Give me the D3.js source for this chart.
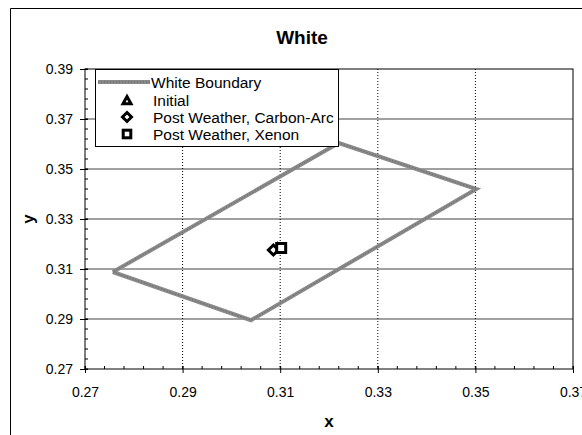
<!DOCTYPE html>
<html><head><meta charset="utf-8">
<script src="https://cdn.jsdelivr.net/npm/d3@7"></script>
<style>body{margin:0;background:#fff}svg{display:block;font-family:"Liberation Sans",Arial,sans-serif}</style>
</head><body>
<svg id="c" width="582" height="435"></svg>
<script>
const title = "White";
const xTicks = [0.27, 0.29, 0.31, 0.33, 0.35, 0.37];
const yTicks = [0.27, 0.29, 0.31, 0.33, 0.35, 0.37, 0.39];
const boundaryX = [0.2757, 0.3040, 0.3502, 0.3220, 0.2757];
const boundaryY = [0.3088, 0.2895, 0.3420, 0.3604, 0.3088];
const initialPt = [0.3095, 0.3182];
const carbonArcPt = [0.3086, 0.3176];
const xenonPt = [0.3102, 0.3184];
const legendLabels = ["White Boundary", "Initial", "Post Weather, Carbon-Arc", "Post Weather, Xenon"];

const svg = d3.select("#c");
svg.append("rect").attr("width",582).attr("height",435).attr("fill","#fff");
// outer chart border (only top/left visible)
svg.append("path").attr("d","M10.5,435 V8.5 H582").attr("fill","none").attr("stroke","#000");

const L=85, R=573, T=69, B=369;
const x = d3.scaleLinear().domain([0.27,0.37]).range([L,R]);
const y = d3.scaleLinear().domain([0.27,0.39]).range([B,T]);

// horizontal gridlines
svg.append("g").selectAll("line").data(yTicks.slice(1,-1)).join("line")
  .attr("x1",L).attr("x2",R).attr("y1",d=>y(d)).attr("y2",d=>y(d))
  .attr("stroke","#808080").attr("stroke-width",1.5);
// vertical dotted gridlines
svg.append("g").selectAll("line").data(xTicks.slice(1,-1)).join("line")
  .attr("x1",d=>x(d)).attr("x2",d=>x(d)).attr("y1",T).attr("y2",B)
  .attr("stroke","#000").attr("stroke-width",1).attr("stroke-dasharray","1,2");
// plot frame
svg.append("rect").attr("x",L).attr("y",T).attr("width",R-L).attr("height",B-T)
  .attr("fill","none").attr("stroke","#000").attr("stroke-width",1);

// axes
const minorX = d3.range(0.27,0.3701,0.004);
const minorY = d3.range(0.27,0.3901,0.004);
const xAxis = svg.append("g").attr("transform",`translate(0,${B})`)
  .call(d3.axisBottom(x).tickValues(xTicks).tickFormat(d3.format(".2f")).tickSize(4).tickPadding(14));
xAxis.select(".domain").remove();
xAxis.selectAll(".tick line").attr("y1",-3).attr("y2",4);
xAxis.selectAll("text").attr("font-size",14).attr("fill","#000");
svg.append("g").selectAll("line").data(minorX).join("line")
  .attr("x1",d=>x(d)).attr("x2",d=>x(d)).attr("y1",B-3).attr("y2",B).attr("stroke","#000");
const yAxis = svg.append("g").attr("transform",`translate(${L},0)`)
  .call(d3.axisLeft(y).tickValues(yTicks).tickFormat(d3.format(".2f")).tickSize(5).tickPadding(7));
yAxis.select(".domain").remove();
yAxis.selectAll(".tick line").attr("x1",-5).attr("x2",3);
yAxis.selectAll("text").attr("font-size",14).attr("fill","#000");
svg.append("g").selectAll("line").data(minorY).join("line")
  .attr("y1",d=>y(d)).attr("y2",d=>y(d)).attr("x1",L).attr("x2",L+3).attr("stroke","#000");

// boundary
const bpts = boundaryX.map((v,i)=>[v,boundaryY[i]]);
svg.append("path").attr("d",d3.line().x(d=>x(d[0])).y(d=>y(d[1]))(bpts))
  .attr("fill","none").attr("stroke","#8a8a8a").attr("stroke-width",4).attr("stroke-linejoin","miter");
svg.append("path").attr("d",d3.line().x(d=>x(d[0])).y(d=>y(d[1]))(bpts))
  .attr("fill","none").attr("stroke","#444").attr("stroke-width",1).attr("stroke-dasharray","1,2").attr("opacity",0.6);

// markers
function tri(g,cx,cy,s){g.append("path").attr("d",`M${cx},${cy-s} L${cx+s},${cy+s*0.8} L${cx-s},${cy+s*0.8}Z`)
  .attr("fill","#fff").attr("stroke","#000").attr("stroke-width",3);}
function dia(g,cx,cy,s){g.append("path").attr("d",`M${cx},${cy-s} L${cx+s},${cy} L${cx},${cy+s} L${cx-s},${cy}Z`)
  .attr("fill","#fff").attr("stroke","#000").attr("stroke-width",3);}
function sq(g,cx,cy,s){g.append("rect").attr("x",cx-s).attr("y",cy-s).attr("width",2*s).attr("height",2*s)
  .attr("fill","#fff").attr("stroke","#000").attr("stroke-width",3);}
const mg = svg.append("g");
tri(mg,x(initialPt[0]),y(initialPt[1]),4.5);
dia(mg,x(carbonArcPt[0]),y(carbonArcPt[1]),5);
sq(mg,x(xenonPt[0]),y(xenonPt[1]),4.5);

// legend
const lg = svg.append("g");
lg.append("rect").attr("x",95.5).attr("y",69.5).attr("width",243).attr("height",77)
  .attr("fill","#fff").attr("stroke","#000");
const rowsY=[82,100,117,134];
lg.append("line").attr("x1",98).attr("x2",150).attr("y1",rowsY[0]).attr("y2",rowsY[0])
  .attr("stroke","#8a8a8a").attr("stroke-width",4);
lg.append("line").attr("x1",98).attr("x2",150).attr("y1",rowsY[0]).attr("y2",rowsY[0])
  .attr("stroke","#444").attr("stroke-width",1).attr("stroke-dasharray","1,2").attr("opacity",0.6);
tri(lg,127,rowsY[1]+0.5,4);
dia(lg,127,rowsY[2],4.5);
sq(lg,127,rowsY[3],3.8);
lg.selectAll("text").data(legendLabels).join("text")
  .attr("x",(d,i)=>i===0?151:153).attr("y",(d,i)=>rowsY[i]).attr("dy","0.36em")
  .attr("font-size",15.5).attr("fill","#000").text(d=>d);

// titles
svg.append("text").attr("x",302).attr("y",37).attr("dy","0.35em").attr("text-anchor","middle")
  .attr("font-size",19).attr("font-weight","bold").text(title);
svg.append("text").attr("x",(L+R)/2).attr("y",421).attr("dy","0.35em").attr("text-anchor","middle")
  .attr("font-size",17).attr("font-weight","bold").text("x");
svg.append("text").attr("transform",`translate(28,${(T+B)/2}) rotate(-90)`).attr("dy","0.35em").attr("text-anchor","middle")
  .attr("font-size",17).attr("font-weight","bold").text("y");
</script>
</body></html>
